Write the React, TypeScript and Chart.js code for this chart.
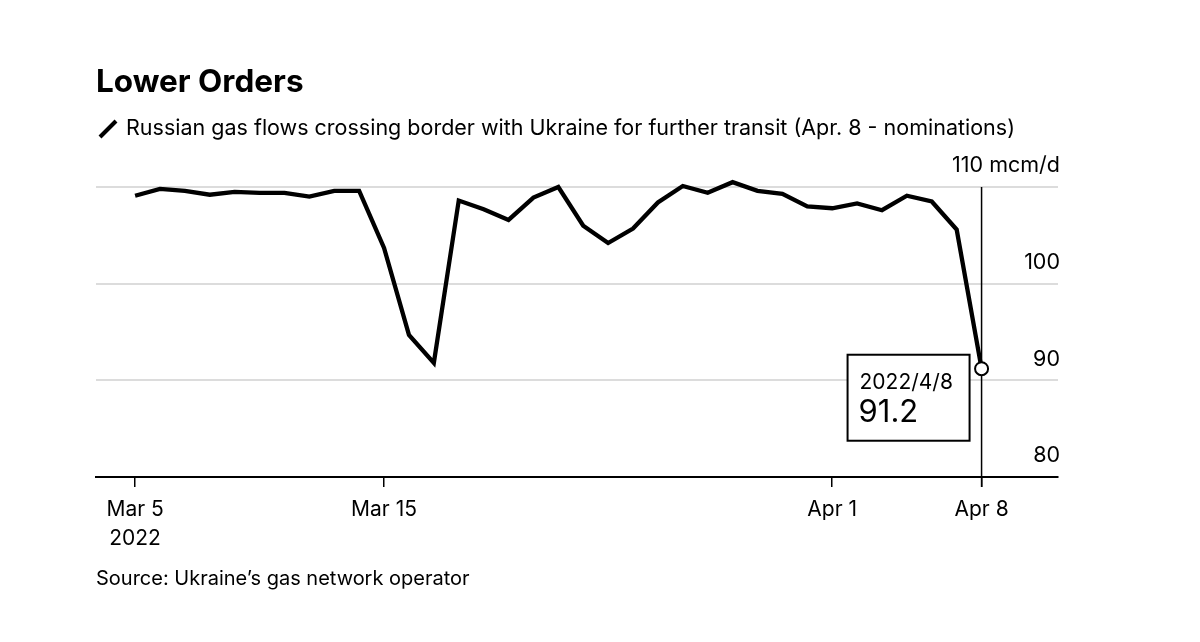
import React, { useEffect, useRef } from "react";
import { Chart, registerables } from "chart.js";
Chart.register(...registerables);

const dates = [
  "Mar 5", "Mar 6", "Mar 7", "Mar 8", "Mar 9", "Mar 10", "Mar 11", "Mar 12", "Mar 13", "Mar 14",
  "Mar 15", "Mar 16", "Mar 17", "Mar 18", "Mar 19", "Mar 20", "Mar 21", "Mar 22", "Mar 23", "Mar 24",
  "Mar 25", "Mar 26", "Mar 27", "Mar 28", "Mar 29", "Mar 30", "Mar 31", "Apr 1", "Apr 2", "Apr 3",
  "Apr 4", "Apr 5", "Apr 6", "Apr 7", "Apr 8",
];
const flows = [
  109.1, 109.8, 109.6, 109.2, 109.5, 109.4, 109.4, 109.0, 109.6, 109.6,
  103.7, 94.7, 91.8, 108.6, 107.7, 106.6, 108.9, 110.0, 106.0, 104.2,
  105.7, 108.4, 110.1, 109.4, 110.5, 109.6, 109.3, 108.0, 107.8, 108.3,
  107.6, 109.1, 108.5, 105.6, 91.2,
];
const xTickIndex = [0, 10, 28, 34];
const xTickLabels: (string | string[])[] = [["Mar 5", "2022"], "Mar 15", "Apr 1", "Apr 8"];
const yTicks = [80, 90, 100, 110];
const yUnit = "mcm/d";
const lastDateLabel = "2022/4/8";

const FONT = "Inter, 'Liberation Sans', Arial, sans-serif";

export default function App() {
  const ref = useRef<HTMLCanvasElement>(null);
  useEffect(() => {
    const canvas = ref.current!;
    const last = flows.length - 1;
    const overlay = {
      id: "overlay",
      beforeDatasetsDraw(chart: any) {
        const { ctx, scales } = chart;
        const x = scales.x, y = scales.y;
        const px = x.getPixelForValue(last);
        ctx.save();
        ctx.strokeStyle = "#000";
        ctx.lineWidth = 1.5;
        ctx.beginPath();
        ctx.moveTo(px, y.getPixelForValue(110));
        ctx.lineTo(px, y.bottom + 10);
        ctx.stroke();
        ctx.restore();
      },
      afterDatasetsDraw(chart: any) {
        const { ctx, scales } = chart;
        const x = scales.x, y = scales.y;
        const px = x.getPixelForValue(last);
        const py = y.getPixelForValue(flows[last]);
        const w = 122, h = 86;
        const left = px - 12 - w, top = py - 14;
        ctx.save();
        ctx.fillStyle = "#fff";
        ctx.fillRect(left, top, w, h);
        ctx.strokeStyle = "#000";
        ctx.lineWidth = 2;
        ctx.strokeRect(left, top, w, h);
        ctx.fillStyle = "#000";
        ctx.textBaseline = "alphabetic";
        ctx.textAlign = "left";
        ctx.font = `21px ${FONT}`;
        ctx.fillText(lastDateLabel, left + 12, top + 34);
        ctx.font = `31px ${FONT}`;
        ctx.fillText(flows[last].toFixed(1), left + 11, top + 67);
        ctx.restore();
      },
    };
    const chart = new Chart(canvas, {
      type: "line",
      data: {
        datasets: [
          {
            data: flows.map((v, i) => ({ x: i, y: v })),
            borderColor: "#000",
            borderWidth: 4.3,
            tension: 0,
            pointRadius: (c: any) => (c.dataIndex === last ? 6.5 : 0),
            pointBackgroundColor: "#fff",
            pointBorderColor: "#000",
            pointBorderWidth: 2,
          },
        ],
      },
      options: {
        responsive: false,
        animation: false,
        layout: { padding: { left: 96, right: 142, top: 172.5, bottom: 0 } },
        plugins: { legend: { display: false }, tooltip: { enabled: false } },
        scales: {
          x: {
            type: "linear",
            min: -1.57,
            max: 37.07,
            afterBuildTicks: (s: any) => {
              s.ticks = xTickIndex.map((v) => ({ value: v }));
            },
            afterFit: (s: any) => {
              s.height = 165;
            },
            grid: { drawOnChartArea: false, drawTicks: true, tickLength: 10, color: "#000", lineWidth: 1.5 },
            border: { display: true, color: "#000", width: 2 },
            ticks: {
              font: { family: FONT, size: 21, lineHeight: 1.35 },
              color: "#000",
              padding: 9,
              maxRotation: 0,
              autoSkip: false,
              callback: (_v: any, i: number) => xTickLabels[i],
            },
          },
          y: {
            position: "right",
            min: 80,
            max: 111.5,
            afterBuildTicks: (s: any) => {
              s.ticks = yTicks.map((v) => ({ value: v }));
            },
            afterFit: (s: any) => {
              s.width = 0;
            },
            grid: { color: "#dcdcdc", lineWidth: 2, drawTicks: false },
            border: { display: false },
            ticks: {
              mirror: true,
              padding: 2,
              labelOffset: -21,
              font: { family: FONT, size: 21.5 },
              color: "#000",
              callback: (v: any) => (v === yTicks[yTicks.length - 1] ? `${v} ${yUnit}` : `${v}`),
            },
          },
        },
      },
      plugins: [overlay],
    });
    return () => chart.destroy();
  }, []);

  return (
    <div style={{ position: "absolute", left: 0, top: 0, width: 1200, height: 642, background: "#fff", fontFamily: FONT, color: "#000" }}>
      <canvas ref={ref} width={1200} height={642} style={{ position: "absolute", left: 0, top: 0 }} />
      <div style={{ position: "absolute", left: 96, top: 65, fontSize: 31.5, lineHeight: "31.5px", fontWeight: 700, whiteSpace: "nowrap" }}>
        Lower Orders
      </div>
      <svg width="22" height="20" style={{ position: "absolute", left: 97, top: 119 }}>
        <line x1="3" y1="18" x2="19" y2="2" stroke="#000" strokeWidth="4" />
      </svg>
      <div style={{ position: "absolute", left: 126, top: 116.5, fontSize: 21.5, lineHeight: "21.5px", whiteSpace: "nowrap" }}>
        Russian gas flows crossing border with Ukraine for further transit (Apr. 8 - nominations)
      </div>
      <div style={{ position: "absolute", left: 96, top: 568, fontSize: 20, lineHeight: "20px", whiteSpace: "nowrap" }}>
        Source: Ukraine’s gas network operator
      </div>
    </div>
  );
}
